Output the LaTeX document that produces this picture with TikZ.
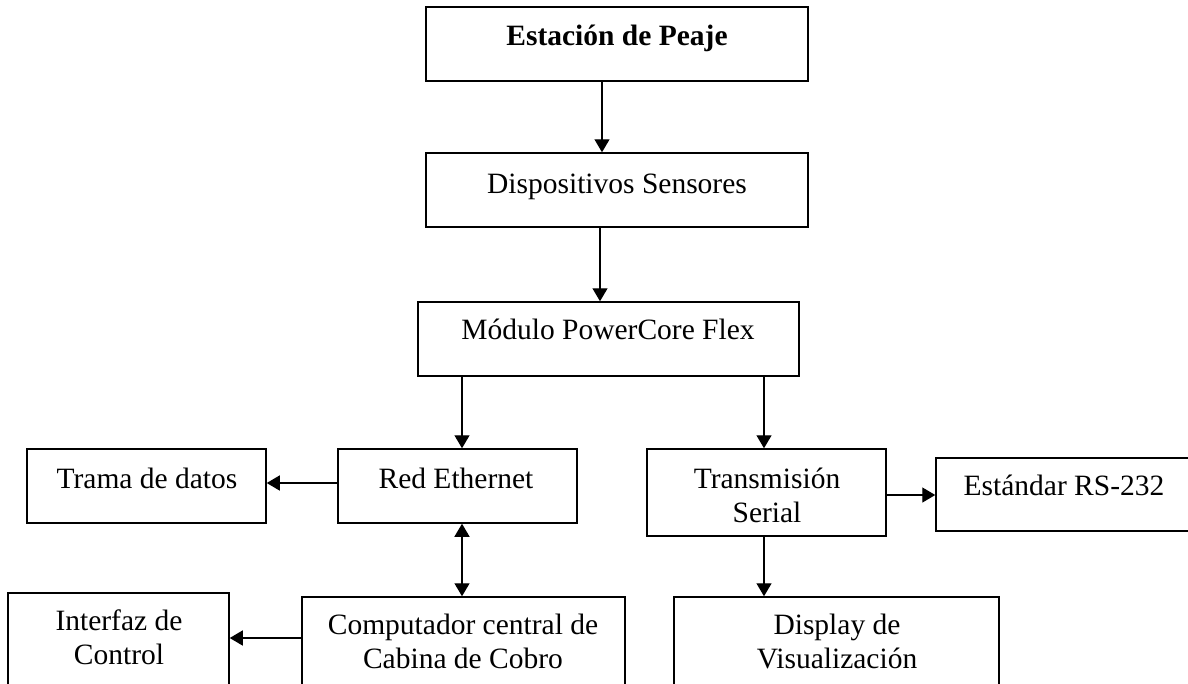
\documentclass[tikz,border=0pt]{standalone}
\usepackage{fontspec}
\setmainfont{Liberation Serif}
\usetikzlibrary{arrows.meta}

\tikzset{
  blk/.style={draw, line width=1.5pt, inner sep=0pt, minimum width=#1},
  txt/.style={anchor=base, inner sep=0pt, font=\fontsize{29.5}{34}\selectfont},
  tip/.tip={Triangle[length=13pt,width=15pt]},
  arr/.style={line width=1.4pt, -tip},
  arrboth/.style={line width=1.4pt, tip-tip}
}
\newcommand{\twolines}[2]{\begin{tabular}[t]{@{}c@{}}#1\\#2\end{tabular}}

\begin{document}
\begin{tikzpicture}[x=1pt, y=-1pt]
  \useasboundingbox (0,0) rectangle (1188,683);
  \clip (0,0) rectangle (1188,683);

  % blocks
  \node[blk=382pt, minimum height=74pt] (peaje) at (617,44) {};
  \node[blk=382pt, minimum height=74pt] (sens) at (617,190) {};
  \node[blk=381pt, minimum height=74pt] (mod) at (608.5,339) {};
  \node[blk=239pt, minimum height=74pt] (trama) at (146.5,486) {};
  \node[blk=239pt, minimum height=74pt] (eth) at (457.5,486) {};
  \node[blk=239pt, minimum height=87pt] (trans) at (766.5,492.5) {};
  \node[blk=264pt, minimum height=73pt] (rs) at (1068,494.5) {};
  \node[blk=221pt, minimum height=107pt] (intf) at (118.5,646.5) {};
  \node[blk=323pt, minimum height=103pt] (comp) at (463.5,648.5) {};
  \node[blk=325pt, minimum height=103pt] (disp) at (836.5,648.5) {};

  % labels
  \node[txt] (tpeaje) at (617,45) {\bfseries Estación de Peaje};
  \node[txt] (tsens) at (617,193) {Dispositivos Sensores};
  \node[txt] (tmod) at (608,339) {Módulo PowerCore Flex};
  \node[txt] (ttrama) at (147,488) {Trama de datos};
  \node[txt] (teth) at (456,488) {Red Ethernet};
  \node[txt] (ttrans) at (767,488) {\twolines{Transmisión}{Serial}};
  \node[txt] (trs) at (1064,495) {Estándar RS-232};
  \node[txt] (tintf) at (119,630) {\twolines{Interfaz de}{Control}};
  \node[txt] (tcomp) at (463,634) {\twolines{Computador central de}{Cabina de Cobro}};
  \node[txt] (tdisp) at (837,634) {\twolines{Display de}{Visualización}};

  % connectors
  \draw[arr] ([xshift=-15pt]peaje.south) -- ([xshift=-15pt]sens.north);
  \coordinate (pmod) at ([xshift=-8.5pt]mod.north);
  \draw[arr] (sens.south -| pmod) -- (pmod);
  \coordinate (peth) at ([xshift=4.5pt]eth.north);
  \draw[arr] (mod.south -| peth) -- (peth);
  \coordinate (ptrans) at ([xshift=-2.5pt]trans.north);
  \draw[arr] (mod.south -| ptrans) -- (ptrans);
  \draw[arr] ([yshift=3pt]eth.west) -- ([yshift=3pt]eth.west -| trama.east);
  \coordinate (peth2) at ([xshift=4.5pt]eth.south);
  \draw[arrboth] (peth2) -- (peth2 |- comp.north);
  \draw[arr] ([yshift=10.5pt]comp.west) -- ([yshift=10.5pt]comp.west -| intf.east);
  \draw[arr] ([yshift=-2.5pt]trans.east) -- ([yshift=-2.5pt]trans.east -| rs.west);
  \coordinate (ptrans2) at ([xshift=-2.5pt]trans.south);
  \draw[arr] (ptrans2) -- (ptrans2 |- disp.north);
\end{tikzpicture}
\end{document}
